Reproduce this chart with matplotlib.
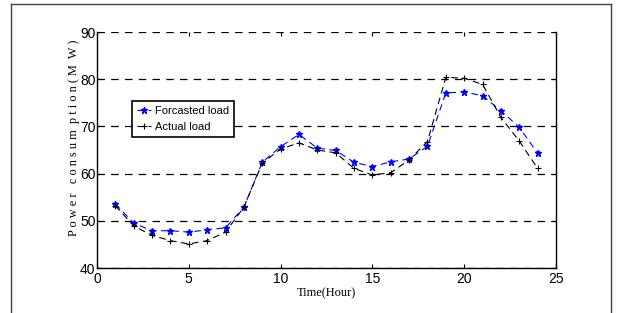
import matplotlib
matplotlib.use("Agg")
import matplotlib.pyplot as plt
from matplotlib.lines import Line2D

hours = list(range(1, 25))
forecast = [53.6, 49.5, 47.9, 47.9, 47.6, 48.1, 48.5, 52.9, 62.4, 65.7, 68.3, 65.4,
            64.9, 62.4, 61.5, 62.5, 63.1, 65.8, 77.1, 77.3, 76.5, 73.3, 69.8, 64.3]
actual = [53.2, 48.9, 46.9, 45.8, 45.1, 45.8, 47.6, 52.9, 62.2, 65.2, 66.5, 65.0,
          64.4, 61.1, 59.7, 60.2, 62.9, 66.8, 80.4, 80.2, 78.9, 71.9, 66.9, 61.1]
xticks = [0, 5, 10, 15, 20, 25]
yticks = [40, 50, 60, 70, 80, 90]

tickfont = ['Liberation Sans', 'DejaVu Sans']
serif = ['Liberation Serif', 'DejaVu Serif']

fig = plt.figure(figsize=(6.17, 3.13), dpi=100)
ax = fig.add_axes([97/617, 1-268/313, (556-97)/617, (268-32)/313])

ax.plot(hours, forecast, color='blue', ls=(0, (6, 4)), lw=0.8,
        marker='*', ms=5, label='Forcasted load')
ax.plot(hours, actual, color='black', ls=(0, (6, 4)), lw=0.8,
        marker='+', ms=5, mew=0.8, label='Actual load')

ax.set_xlim(0, 25)
ax.set_ylim(40, 90)
ax.set_xticks(xticks)
ax.set_yticks(yticks)
ax.set_xticklabels([str(t) for t in xticks], family=tickfont, fontsize=10)
ax.set_yticklabels([str(t) for t in yticks], family=tickfont, fontsize=10)
ax.tick_params(direction='in', length=3, width=0.8, pad=1,
               top=True, right=True)
ax.tick_params(axis='x', pad=3)
ax.yaxis.grid(True, color='black', ls=(0, (6, 5)), lw=0.9)
ax.spines['top'].set_visible(False)
for s in ['left', 'right', 'bottom']:
    ax.spines[s].set_linewidth(1.0)

ax.set_xlabel('Time(Hour)', family=serif, fontsize=9, labelpad=1)
ax.set_ylabel('P o w e r   c o n s u m  p t i o n ( M  W )', family=serif,
              fontsize=8.8)
ax.yaxis.set_label_coords(-0.036, 0.55)

leg = ax.legend(loc='upper left', bbox_to_anchor=(0.065, 0.73),
                prop={'family': tickfont, 'size': 8}, frameon=True,
                fancybox=False, edgecolor='black', framealpha=1,
                handlelength=1.2, handletextpad=0.4, borderpad=0.45,
                labelspacing=0.55)
leg.get_frame().set_linewidth(1.2)

# outer page frame
fig.add_artist(Line2D([11/617, 11/617], [0, 1-3.5/313], color='#444444', lw=1, transform=fig.transFigure))
fig.add_artist(Line2D([611/617, 611/617], [0, 1-3.5/313], color='#444444', lw=1, transform=fig.transFigure))
fig.add_artist(Line2D([11/617, 611/617], [1-3.5/313, 1-3.5/313], color='#444444', lw=1, transform=fig.transFigure))

fig.savefig('out.png', dpi=100)
